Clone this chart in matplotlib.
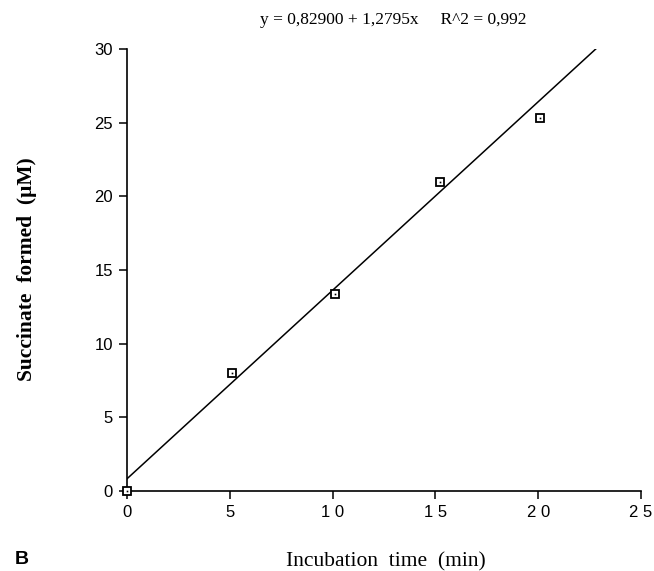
import matplotlib
matplotlib.use("Agg")
import matplotlib.pyplot as plt
import numpy as np

# Data
time_min = [0.0, 5.1, 10.1, 15.2, 20.1]
succinate = [0.0, 8.0, 13.4, 21.0, 25.3]
intercept = 0.829
slope = 1.2795
fit_x = [0.0, 23.5]
x_ticks = [0, 5, 10, 15, 20, 25]
x_tick_labels = ["0", "5", "1 0", "1 5", "2 0", "2 5"]
y_ticks = [0, 5, 10, 15, 20, 25, 30]
y_tick_labels = ["0", "5", "10", "15", "20", "25", "30"]

W, H = 654, 571
fig = plt.figure(figsize=(W / 100, H / 100), dpi=100)
ax = fig.add_axes([127 / W, 1 - 491 / H, (641 - 127) / W, (491 - 49) / H])

fx = np.array(fit_x)
ax.plot(fx, intercept + slope * fx, color="black", lw=1.1)
ax.plot(time_min, succinate, linestyle="none", marker="s", ms=6.2,
        mfc="white", mec="black", mew=1.3, clip_on=False, zorder=5)
ax.plot(time_min, succinate, linestyle="none", marker="s", ms=1.2,
        mfc="black", mec="black", mew=0, clip_on=False, zorder=6)

ax.set_xlim(0, 25)
ax.set_ylim(0, 30)
ax.spines["top"].set_visible(False)
ax.spines["right"].set_visible(False)
ax.spines["left"].set_linewidth(1.2)
ax.spines["bottom"].set_linewidth(1.2)

ax.set_xticks(x_ticks)
ax.set_xticklabels(x_tick_labels, family="Liberation Sans", fontsize=12)
ax.set_yticks(y_ticks)
ax.set_yticklabels(y_tick_labels, family="Liberation Sans", fontsize=12)
ax.tick_params(axis="both", direction="out", length=6, width=1.1, pad=4)

fig.text(386 / W, 1 - 562 / H, "Incubation  time  (min)",
         family="Liberation Serif", fontsize=15.5, ha="center", va="center")
fig.text(27 / W, 1 - 269 / H, "Succinate  formed  (\u03bcM)",
         family="Liberation Serif", fontsize=15.5, fontweight="bold",
         rotation=90, ha="center", va="center")

fig.text(393 / W, 1 - 20 / H, "y = 0,82900 + 1,2795x     R^2 = 0,992",
         family="Liberation Serif", fontsize=12.5, ha="center", va="center")
fig.text(15 / W, 1 - 560 / H, "B", family="Liberation Sans", fontsize=14,
         fontweight="bold", ha="left", va="center")

fig.savefig("out.png", dpi=100)
